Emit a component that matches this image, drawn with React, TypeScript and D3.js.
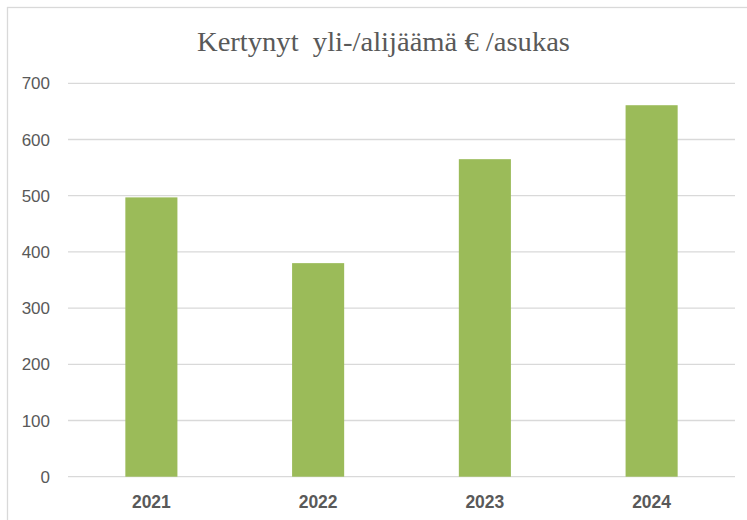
import { useRef, useEffect } from 'react';
import * as d3 from 'd3';

const years = ['2021', '2022', '2023', '2024'];
const values = [497, 380, 565, 661];
const yTicks = [0, 100, 200, 300, 400, 500, 600, 700];
const title = 'Kertynyt  yli-/alijäämä € /asukas';

const W = 747;
const H = 520;

const App = () => {
  const svgRef = useRef<SVGSVGElement>(null);

  useEffect(() => {
    const svg = d3.select(svgRef.current);
    svg.selectAll('*').remove();

    const margin = { top: 83.3, right: 12, bottom: 43.3, left: 68 };

    const x = d3.scaleBand()
      .domain(years)
      .range([margin.left, W - margin.right])
      .paddingInner(0.6877)
      .paddingOuter(0.3439);

    const y = d3.scaleLinear()
      .domain([0, 700])
      .range([H - margin.bottom, margin.top]);

    // outer chart border
    svg.append('rect')
      .attr('x', 7.5)
      .attr('y', 7.5)
      .attr('width', W + 20)
      .attr('height', H + 20)
      .attr('fill', 'white')
      .attr('stroke', '#d9d9d9')
      .attr('stroke-width', 1.3);

    // title is a stretched serif in the original, so fix its length
    svg.append('text')
      .attr('x', 383.5)
      .attr('y', 50.5)
      .attr('text-anchor', 'middle')
      .attr('font-family', '"Liberation Serif", "Times New Roman", serif')
      .attr('font-size', 27)
      .attr('fill', '#595959')
      .attr('textLength', 373)
      .attr('lengthAdjust', 'spacingAndGlyphs')
      .style('white-space', 'pre')
      .text(title);

    const grid = svg.append('g');
    grid.selectAll('line')
      .data(yTicks)
      .join('line')
      .attr('x1', margin.left)
      .attr('x2', W - margin.right)
      .attr('y1', d => y(d))
      .attr('y2', d => y(d))
      .attr('stroke', '#d9d9d9')
      .attr('stroke-width', 1.3);

    grid.selectAll('text')
      .data(yTicks)
      .join('text')
      .attr('x', 50)
      .attr('y', d => y(d) + 6)
      .attr('text-anchor', 'end')
      .attr('font-family', '"Liberation Sans", Arial, sans-serif')
      .attr('font-size', 17)
      .attr('fill', '#595959')
      .text(d => d);

    svg.append('g')
      .selectAll('rect')
      .data(values)
      .join('rect')
      .attr('x', (d, i) => x(years[i]))
      .attr('y', d => y(d))
      .attr('width', x.bandwidth())
      .attr('height', d => y(0) - y(d))
      .attr('fill', '#9bbb59');

    svg.append('g')
      .selectAll('text')
      .data(years)
      .join('text')
      .attr('x', d => x(d) + x.bandwidth() / 2)
      .attr('y', 508)
      .attr('text-anchor', 'middle')
      .attr('font-family', '"Liberation Sans", Arial, sans-serif')
      .attr('font-size', 17.5)
      .attr('font-weight', 'bold')
      .attr('fill', '#595959')
      .text(d => d);
  }, []);

  return (
    <svg
      ref={svgRef}
      width={W}
      height={H}
      style={{ position: 'absolute', left: 0, top: 0, background: 'white' }}
    ></svg>
  );
};

export default App;
